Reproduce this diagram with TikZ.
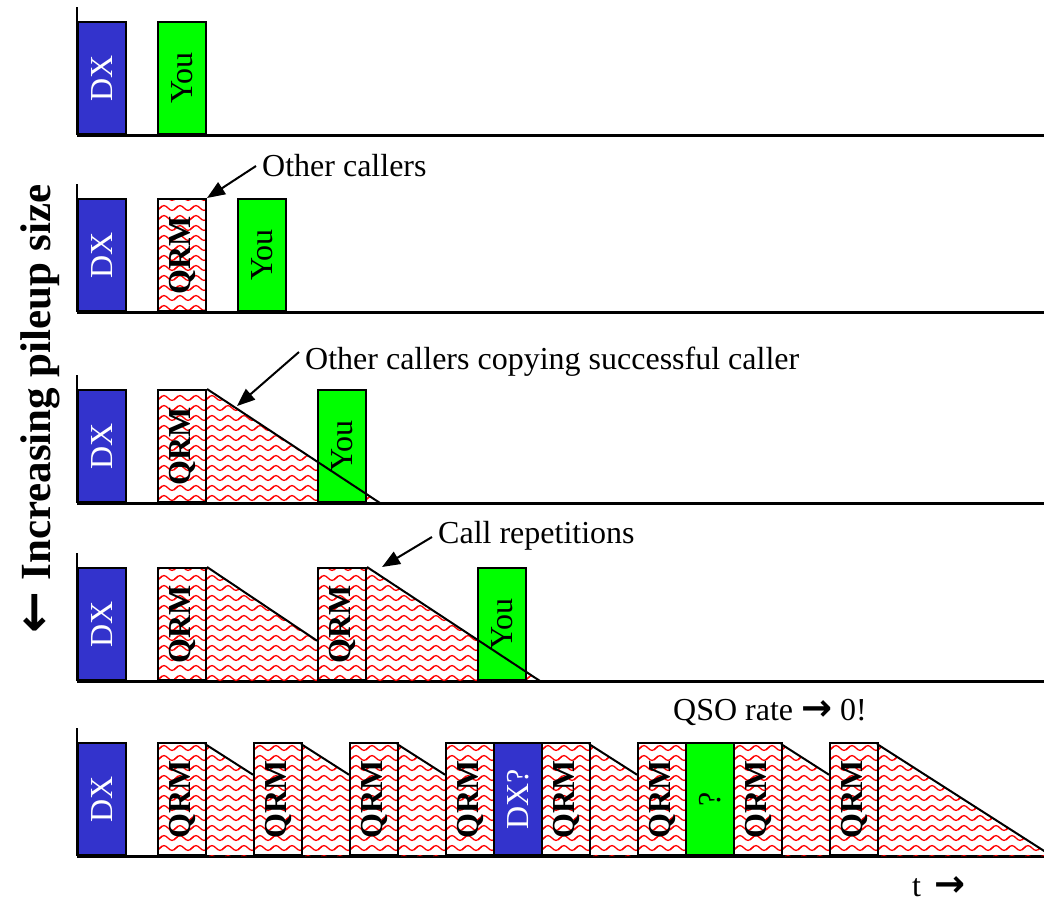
\documentclass[tikz,border=0pt]{standalone}
\usepackage{fontspec}
\setmainfont{Liberation Serif}
\newfontfamily\symfont{DejaVu Sans}
\usetikzlibrary{arrows.meta,patterns}

\definecolor{dxblue}{RGB}{51,51,204}
\definecolor{yougreen}{RGB}{0,255,0}

% red wavy hatching used for interference (QRM)
\pgfdeclarepatternformonly{qrmwave}{\pgfqpoint{-2pt}{0pt}}{\pgfqpoint{18pt}{10pt}}{\pgfqpoint{16pt}{10pt}}{%
  \pgfsetlinewidth{1.3pt}%
  \pgfpathmoveto{\pgfqpoint{-4pt}{2.6pt}}%
  \pgfpathcosine{\pgfqpoint{4pt}{2.4pt}}%
  \pgfpathsine{\pgfqpoint{4pt}{2.4pt}}%
  \pgfpathcosine{\pgfqpoint{4pt}{-2.4pt}}%
  \pgfpathsine{\pgfqpoint{4pt}{-2.4pt}}%
  \pgfpathcosine{\pgfqpoint{4pt}{2.4pt}}%
  \pgfpathsine{\pgfqpoint{4pt}{2.4pt}}%
  \pgfusepath{stroke}%
}

\newcommand\slotfont{\fontsize{32}{36}\selectfont}
\newcommand\rarr{{\symfont\bfseries\fontsize{37}{40}\selectfont →}}
\newcommand\larr{{\symfont\bfseries\fontsize{50}{54}\selectfont ←}}

\tikzset{
  slot/.style={draw, line width=2pt, minimum width=48pt, minimum height=112pt,
    inner sep=0pt, anchor=south west, font=\slotfont},
  dxbox/.style={slot, fill=dxblue, text=white},
  youbox/.style={slot, fill=yougreen},
  qrmbox/.style={slot, pattern=qrmwave, pattern color=red, font=\slotfont\bfseries},
  qrmtail/.style={pattern=qrmwave, pattern color=red},
  slope/.style={line width=2pt},
  axisv/.style={line width=2pt},
  axish/.style={line width=3pt},
  ptr/.style={line width=2pt, -{Triangle[length=18pt,width=14pt]}},
  note/.style={font=\slotfont, anchor=base west, inner sep=0pt},
}

\begin{document}
\begin{tikzpicture}[x=1pt,y=-1pt]
\useasboundingbox (0,0) rectangle (1044,903);

% ---------- row 1: DX and you alone ----------
\draw[axisv] (77,7) -- (77,135);
\draw[axish] (77,135) -- (1044,135);
\node[dxbox] (dxA) at (77,135) {\rotatebox{90}{DX}};
\node[youbox] (youA) at (157,135) {\rotatebox{90}{You}};

% ---------- row 2: one other caller ----------
\draw[axisv] (77,184) -- (77,312);
\draw[axish] (77,312) -- (1044,312);
\node[dxbox] (dxB) at (77,312) {\rotatebox{90}{DX}};
\node[qrmbox] (qB1) at (157,312) {\rotatebox{90}{QRM}};
\node[youbox] (youB) at (237,312) {\rotatebox{90}{You}};
\node[note] (lblB) at (262,176) {Other callers};
\coordinate (tB) at (256,166);
\draw[ptr] (tB) -- (qB1.north east);

% ---------- row 3: callers copying ----------
\draw[axisv] (77,375) -- (77,503);
\draw[axish] (77,503) -- (1044,503);
\coordinate (cC) at (380,503);
\node[dxbox] (dxC) at (77,503) {\rotatebox{90}{DX}};
\node[qrmbox] (qC1) at (157,503) {\rotatebox{90}{QRM}};
\fill[qrmtail] (qC1.north east) -- (cC) -- (qC1.south east) -- cycle;
\node[youbox] (youC) at (317,503) {\rotatebox{90}{You}};
\draw[slope] (qC1.north east) -- (cC);
\node[note] (lblC) at (305,369) {Other callers copying successful caller};
\coordinate (tC) at (299,352);
\coordinate (hC) at (237,406);
\draw[ptr] (tC) -- (hC);

% ---------- row 4: call repetitions ----------
\draw[axisv] (77,553) -- (77,681);
\draw[axish] (77,681) -- (1044,681);
\coordinate (cD1) at (317,640.7);
\coordinate (cD2) at (540,681);
\node[dxbox] (dxD) at (77,681) {\rotatebox{90}{DX}};
\node[qrmbox] (qD1) at (157,681) {\rotatebox{90}{QRM}};
\fill[qrmtail] (qD1.north east) -- (cD1) -- (317,681) -- (qD1.south east) -- cycle;
\node[qrmbox] (qD2) at (317,681) {\rotatebox{90}{QRM}};
\fill[qrmtail] (qD2.north east) -- (cD2) -- (qD2.south east) -- cycle;
\node[youbox] (youD) at (477,681) {\rotatebox{90}{You}};
\draw[slope] (qD1.north east) -- (cD1);
\draw[slope] (qD2.north east) -- (cD2);
\node[note] (lblD) at (438,543) {Call repetitions};
\coordinate (tD) at (432,537);
\coordinate (hD) at (382,567);
\draw[ptr] (tD) -- (hD);

% ---------- row 5: full pileup ----------
\draw[axisv] (77,728) -- (77,856);
\draw[axish] (77,856) -- (1044,856);
\foreach \x in {205,301,397,589,781} {
  \fill[qrmtail] (\x,744) -- (\x+48,774.7) -- (\x+48,856) -- (\x,856) -- cycle;
  \draw[slope] (\x,744) -- (\x+48,774.7);
}
\fill[qrmtail] (877,744) -- (1052,856) -- (877,856) -- cycle;
\draw[slope] (877,744) -- (1052,856);
\node[dxbox] (dxE) at (77,856) {\rotatebox{90}{DX}};
\foreach \x/\n in {157/1,253/2,349/3,445/4,541/5,637/6,733/7,829/8}
  \node[qrmbox] (qE\n) at (\x,856) {\rotatebox{90}{QRM}};
\node[dxbox] (dxE2) at (493,856) {\rotatebox{90}{DX?}};
\node[youbox] (youE) at (685,856) {\rotatebox{90}{?}};
\node[note] (lblE) at (673,720) {QSO rate \rarr{} 0!};

% ---------- axis captions ----------
\node[note] (lblT) at (912,896) {t\, \rarr};
\node[font=\fontsize{43}{46}\selectfont\bfseries, rotate=90, inner sep=0pt] (lblY) at (40,409)
  {\larr{} Increasing pileup size};
\end{tikzpicture}
\end{document}
